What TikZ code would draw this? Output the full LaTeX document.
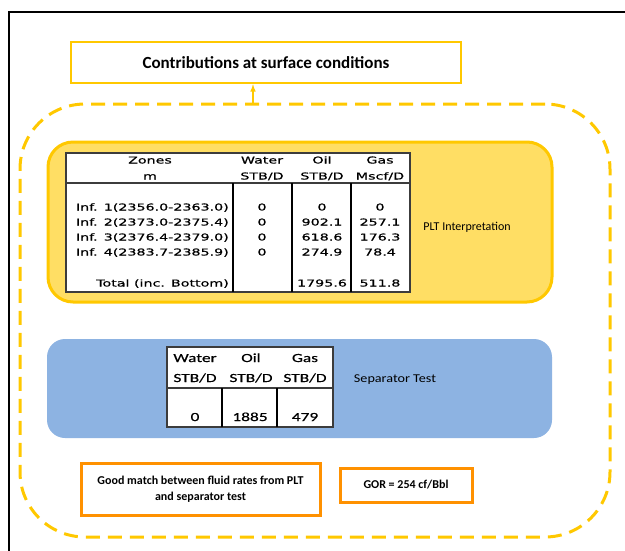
\documentclass[tikz,border=0pt]{standalone}
\usepackage{fontspec}
\setmainfont{Carlito}
\newfontfamily\tabfont[FakeStretch=1.5,FakeBold=0.6]{DejaVu Sans}
\newfontfamily\sepfont[FakeStretch=1.4,FakeBold=0.5]{Carlito}
\newfontfamily\lblfont[FakeStretch=1.18]{Carlito}
\usetikzlibrary{arrows,shapes,positioning}

\definecolor{gold}{RGB}{255,200,0}
\definecolor{pltyellow}{RGB}{255,222,100}
\definecolor{sepblue}{RGB}{141,179,226}
\definecolor{matchorange}{RGB}{255,145,0}
\definecolor{gridgray}{RGB}{60,60,60}

\begin{document}
\begin{tikzpicture}[x=1pt,y=-1pt,
    titlebox/.style={draw=gold, line width=2.5pt, inner sep=0pt, minimum width=390pt, minimum height=41pt, font=\fontsize{17}{20}\selectfont\bfseries},
    groupbox/.style={draw=gold, line width=3pt, dash pattern=on 14pt off 8pt, rounded corners=65pt, inner sep=0pt},
    pltbox/.style={draw=gold, fill=pltyellow, line width=3pt, rounded corners=25pt, inner sep=0pt, minimum width=504pt, minimum height=160pt},
    sepbox/.style={fill=sepblue, rounded corners=18pt, inner sep=0pt, minimum width=505pt, minimum height=99pt},
    matchbox/.style={draw=matchorange, line width=3pt, inner sep=0pt, align=center, font=\fontsize{12}{16}\selectfont\bfseries},
    tabline/.style={draw=gridgray, line width=1.3pt},
    colline/.style={draw=black, line width=1.8pt},
    tabcell/.style={inner sep=0pt, text height=7pt, text depth=2pt, font=\tabfont\fontsize{9.5}{11}\selectfont},
    sepcell/.style={inner sep=0pt, text height=9pt, text depth=3pt, font=\sepfont\fontsize{12.4}{14}\selectfont},
    lbl/.style={inner sep=0pt, font=\fontsize{12}{14}\selectfont},
    seplbl/.style={inner sep=0pt, font=\lblfont\fontsize{12}{14}\selectfont}]
  \useasboundingbox (0,0) rectangle (625,550);

  % outer frame
  \draw[line width=2.5pt] (9,553) |- (628,12);

  % title and dashed group
  \node[titlebox] (title) at (266,62.5) {Contributions at surface conditions};
  \node[groupbox, minimum width=590pt, minimum height=433pt] (group) at (315,320.5) {};
  \coordinate (arrx) at (253,0);
  \draw[gold, line width=1.5pt, -latex] (group.north -| arrx) -- (title.south -| arrx);

  % PLT interpretation
  \node[pltbox] (plt) at (300,222) {};
  \draw[tabline, fill=white] (66,153) rectangle (410,292);
  \draw[tabline] (66,183) -- (410,183);
  \foreach \x in {233,292,351}
    \draw[colline] (\x,183) -- (\x,292);
  \node[tabcell] (hzone) at (150,161) {Zones};
  \node[tabcell] (hzoneu) at (150,177) {m};
  \node[tabcell] (hwater) at (262,161) {Water};
  \node[tabcell] (hwateru) at (262,177) {STB/D};
  \node[tabcell] (hoil) at (322,161) {Oil};
  \node[tabcell] (hoilu) at (322,177) {STB/D};
  \node[tabcell] (hgas) at (380,161) {Gas};
  \node[tabcell] (hgasu) at (380,177) {Mscf/D};
  \foreach \i/\y/\zone/\w/\o/\g in {1/208/{Inf. 1(2356.0-2363.0)}/0/0/0,
      2/223/{Inf. 2(2373.0-2375.4)}/0/902.1/257.1,
      3/238/{Inf. 3(2376.4-2379.0)}/0/618.6/176.3,
      4/253/{Inf. 4(2383.7-2385.9)}/0/274.9/78.4} {
    \node[tabcell, anchor=east] (zone\i) at (229,\y) {\zone};
    \node[tabcell] (water\i) at (262,\y) {\w};
    \node[tabcell] (oil\i) at (322,\y) {\o};
    \node[tabcell] (gas\i) at (380,\y) {\g};
  }
  \node[tabcell, anchor=east] (total) at (229,284) {Total (inc. Bottom)};
  \node[tabcell] (oiltotal) at (322,284) {1795.6};
  \node[tabcell] (gastotal) at (380,284) {511.8};
  \node[lbl] (pltlbl) at (467,227) {PLT Interpretation};

  % separator test
  \node[sepbox] (sep) at (299.5,388.5) {};
  \draw[tabline, fill=white] (167,347) rectangle (333,427);
  \draw[tabline] (167,388) -- (333,388);
  \foreach \x in {222,277}
    \draw[colline] (\x,388) -- (\x,427);
  \node[sepcell] (swater) at (195,359) {Water};
  \node[sepcell] (swateru) at (195,379) {STB/D};
  \node[sepcell] (soil) at (251,359) {Oil};
  \node[sepcell] (soilu) at (251,379) {STB/D};
  \node[sepcell] (sgas) at (305,359) {Gas};
  \node[sepcell] (sgasu) at (305,379) {STB/D};
  \node[sepcell] (swaterv) at (195,418) {0};
  \node[sepcell] (soilv) at (250,418) {1885};
  \node[sepcell] (sgasv) at (305,418) {479};
  \node[seplbl] (septest) at (395,380) {Separator Test};

  % conclusions
  \node[matchbox, minimum width=239pt, minimum height=52pt] (match) at (200.5,489) {Good match between fluid rates from PLT\\and separator test};
  \node[matchbox, minimum width=132pt, minimum height=34pt] (gor) at (406,485) {GOR = 254 cf/Bbl};
\end{tikzpicture}
\end{document}
